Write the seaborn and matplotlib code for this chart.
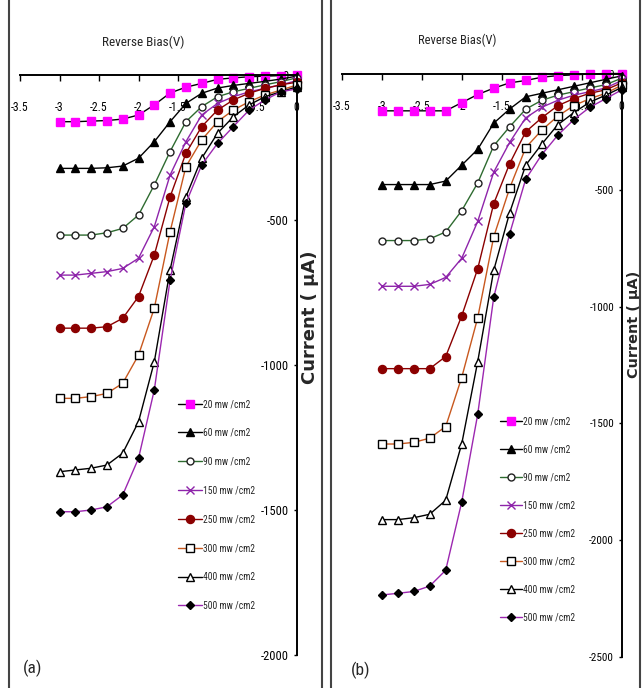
import matplotlib
matplotlib.use("Agg")
import matplotlib.pyplot as plt
import seaborn as sns
from matplotlib import font_manager
from matplotlib.lines import Line2D
from matplotlib.ticker import FixedLocator, FuncFormatter

# ---------------- data ----------------
bias_v = [-3.0, -2.8, -2.6, -2.4, -2.2, -2.0, -1.8, -1.6,
          -1.4, -1.2, -1.0, -0.8, -0.6, -0.4, -0.2, 0.0]

labels = ["20 mw /cm2", "60 mw /cm2", "90 mw /cm2", "150 mw /cm2",
          "250 mw /cm2", "300 mw /cm2", "400 mw /cm2", "500 mw /cm2"]

# panel (a) currents (uA)
a_20 = [-161, -161, -159, -157, -152, -138, -103, -62, -42, -29, -15, -10, -6, -4, -2, 0]
a_60 = [-322, -322, -322, -320, -314, -287, -230, -161, -98, -63, -45, -36, -29, -22, -14, -4]
a_90 = [-552, -552, -552, -544, -529, -483, -379, -264, -161, -109, -75, -58, -46, -34, -23, -10]
a_150 = [-690, -690, -684, -678, -667, -632, -523, -345, -230, -138, -98, -75, -58, -46, -34, -20]
a_250 = [-873, -873, -873, -868, -839, -764, -621, -420, -270, -178, -121, -86, -63, -46, -34, -25]
a_300 = [-1115, -1115, -1109, -1098, -1063, -966, -804, -540, -316, -224, -161, -121, -92, -69, -52, -35]
a_400 = [-1368, -1362, -1356, -1345, -1304, -1196, -989, -672, -420, -287, -201, -144, -103, -75, -58, -41]
a_500 = [-1506, -1506, -1500, -1489, -1448, -1322, -1086, -707, -442, -310, -236, -178, -121, -86, -58, -48]

# panel (b) currents (uA)
b_20 = [-160, -160, -160, -160, -160, -125, -90, -63, -40, -30, -16, -9, -6, -2, 0, 0]
b_60 = [-476, -476, -476, -476, -461, -393, -325, -213, -152, -100, -85, -70, -55, -40, -25, -10]
b_90 = [-716, -716, -716, -709, -679, -588, -469, -310, -228, -153, -115, -93, -78, -62, -48, -20]
b_150 = [-912, -912, -912, -904, -874, -792, -634, -423, -295, -190, -145, -115, -93, -78, -62, -30]
b_250 = [-1265, -1265, -1265, -1265, -1213, -1039, -837, -558, -386, -250, -190, -138, -108, -85, -70, -40]
b_300 = [-1588, -1588, -1581, -1563, -1513, -1303, -1047, -700, -491, -318, -243, -183, -138, -108, -85, -50]
b_400 = [-1912, -1912, -1904, -1889, -1829, -1588, -1235, -844, -596, -393, -303, -220, -168, -123, -93, -60]
b_500 = [-2235, -2228, -2220, -2197, -2129, -1837, -1461, -960, -686, -453, -348, -265, -198, -145, -108, -70]

x_ticks = [-3.5, -3.0, -2.5, -2.0, -1.5, -1.0, -0.5, 0.0]
a_yticks = [0, -500, -1000, -1500, -2000]
b_yticks = [0, -500, -1000, -1500, -2000, -2500]

# ---------------- style ----------------
sns.set_theme(style="white")
names = {f.name for f in font_manager.fontManager.ttflist}
narrow = None
for cand in ("Liberation Sans Narrow", "Roboto Condensed", "Arial Narrow"):
    if cand in names:
        narrow = cand
        break
if narrow:
    BASE = narrow
    k = 1.0
else:
    BASE = "Liberation Sans"
    k = 0.82
plt.rcParams["font.family"] = [BASE, "DejaVu Sans"]
plt.rcParams["axes.unicode_minus"] = False

styles = [
    dict(color="black", marker="s", mfc="#FF00FF", mec="#FF00FF", ms=5.2),
    dict(color="black", marker="^", mfc="black", mec="black", ms=5.5),
    dict(color="#2E6B30", marker="o", mfc="white", mec="#222222", ms=5),
    dict(color="#8E24AA", marker="x", mfc="#8E24AA", mec="#8E24AA", ms=6),
    dict(color="#8B0000", marker="o", mfc="#8B0000", mec="#8B0000", ms=5.8),
    dict(color="#C8581E", marker="s", mfc="white", mec="black", ms=5.5),
    dict(color="black", marker="^", mfc="white", mec="black", ms=5.5),
    dict(color="#9C27B0", marker="D", mfc="black", mec="black", ms=4.5),
]

W, H = 642, 688
fig = plt.figure(figsize=(W / 100, H / 100), dpi=100)
fig.patch.set_facecolor("white")

axA = fig.add_axes([20 / W, 1 - 655 / H, 276.5 / W, 580 / H])
axB = fig.add_axes([341.7 / W, 1 - 656.8 / H, 280 / W, 583.3 / H])

panels = [
    (axA, [a_20, a_60, a_90, a_150, a_250, a_300, a_400, a_500], (-2000, 0), a_yticks),
    (axB, [b_20, b_60, b_90, b_150, b_250, b_300, b_400, b_500], (-2500, 0), b_yticks),
]

fmt = FuncFormatter(lambda v, p: "%g" % v)

for ax, series, ylim, yt in panels:
    for lab, vals, st in zip(labels, series, styles):
        sns.lineplot(x=bias_v, y=vals, ax=ax, label=lab, color=st["color"],
                     marker=st["marker"], markersize=st["ms"],
                     markerfacecolor=st["mfc"], markeredgecolor=st["mec"],
                     markeredgewidth=1.0, linewidth=1.0, estimator=None,
                     errorbar=None, clip_on=False)
    ax.set_xlim(-3.5, 0)
    ax.set_ylim(*ylim)
    ax.set_facecolor("white")
    ax.grid(False)
    ax.spines["left"].set_position(("data", 0))
    ax.spines["bottom"].set_position(("data", 0))
    ax.spines["right"].set_visible(False)
    ax.spines["top"].set_visible(False)
    for s in ("left", "bottom"):
        ax.spines[s].set_color("black")
        ax.spines[s].set_linewidth(1.4)
    ax.xaxis.set_major_locator(FixedLocator(x_ticks))
    ax.yaxis.set_major_locator(FixedLocator(yt))
    ax.xaxis.set_major_formatter(fmt)
    ax.yaxis.set_major_formatter(fmt)
    ax.tick_params(axis="x", bottom=True, top=False, direction="out", length=4,
                   width=1, pad=15, colors="black")
    ax.tick_params(axis="y", left=True, right=False, direction="out", length=2.5,
                   width=1, pad=3, colors="black")
    ax.set_xlabel("")
    ax.set_ylabel("")

axA.tick_params(axis="x", labelsize=8.5 * k)
axA.tick_params(axis="y", labelsize=9 * k)
axB.tick_params(axis="x", labelsize=8.5 * k)
axB.tick_params(axis="y", labelsize=8 * k)

# titles
axA.text(0.445, 1.057, "Reverse Bias(V)", transform=axA.transAxes,
         ha="center", va="center", fontsize=9.5 * k)
axB.text(0.412, 1.057, "Reverse Bias(V)", transform=axB.transAxes,
         ha="center", va="center", fontsize=9 * k)

# current labels
axA.text(1.049, 0.583, "Current ( µA)", transform=axA.transAxes, rotation=90,
         ha="center", va="center", fontsize=13, fontweight="bold",
         family=["DejaVu Sans"])
axB.text(1.044, 0.5705, "Current ( µA)", transform=axB.transAxes, rotation=90,
         ha="center", va="center", fontsize=10.4, fontweight="bold",
         family=["DejaVu Sans"])

# legends
lfs = 6.9 * k
px = lfs * 100 / 72
hA, lA = axA.get_legend_handles_labels()
axA.legend(hA, lA, loc="upper left", bbox_to_anchor=(178 / W, 1 - 399 / H),
           bbox_transform=fig.transFigure, frameon=False, fontsize=lfs,
           handlelength=24 / px, handletextpad=0.15,
           labelspacing=(28.4 - 1.0 * px) / px,
           borderpad=0, borderaxespad=0, numpoints=1)
hB, lB = axB.get_legend_handles_labels()
axB.legend(hB, lB, loc="upper left", bbox_to_anchor=(500 / W, 1 - 416.5 / H),
           bbox_transform=fig.transFigure, frameon=False, fontsize=lfs,
           handlelength=22 / px, handletextpad=0.15,
           labelspacing=(27.6 - 1.0 * px) / px,
           borderpad=0, borderaxespad=0, numpoints=1)

# panel letters
fig.text(33 / W, 1 - 668 / H, "(a)", ha="center", va="center", fontsize=12.5 * k)
fig.text(361 / W, 1 - 670 / H, "(b)", ha="center", va="center", fontsize=12.5 * k)

# panel frames (vertical borders)
for xp in (9, 322, 331, 640):
    fig.add_artist(Line2D([xp / W, xp / W], [0, 1], transform=fig.transFigure,
                          color="#444444", linewidth=1.5))

fig.savefig("out.png", dpi=100, facecolor="white")
